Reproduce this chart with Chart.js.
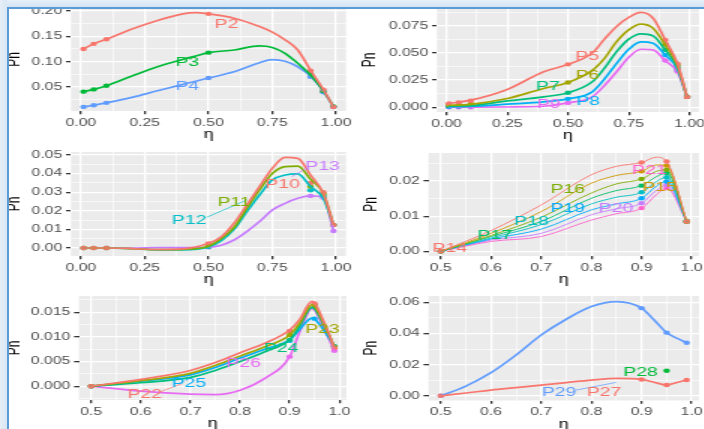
<!DOCTYPE html>
<html>
<head>
<meta charset="utf-8">
<script src="https://cdn.jsdelivr.net/npm/chart.js@4/dist/chart.umd.min.js"></script>
<style>
  html, body { margin: 0; padding: 0; background: #fff; overflow: hidden; width: 704px; height: 429px; }
  canvas { position: absolute; left: 0; top: 0; transform: scaleX(1.5); transform-origin: 0 0; }
  #bandTop { position: absolute; left: 0; top: 0; width: 704px; height: 7px; background: linear-gradient(#e6f0fa, #d2e3f4); z-index: 5; }
  #bandLeft { position: absolute; left: 0; top: 0; width: 7px; height: 429px; background: linear-gradient(90deg, #e6eef7, #d8e6f4); z-index: 5; }
  #frame { position: absolute; left: 7px; top: 7px; width: 720px; height: 440px; border-left: 2px solid #5b9bd5; border-top: 2px solid #5b9bd5; z-index: 6; }
</style>
</head>
<body>
<canvas id="g1" width="470" height="460"></canvas>
<canvas id="g2" width="470" height="460"></canvas>
<canvas id="g3" width="470" height="460"></canvas>
<canvas id="g4" width="470" height="460"></canvas>
<canvas id="g5" width="470" height="460"></canvas>
<canvas id="g6" width="470" height="460"></canvas>
<div id="bandTop"></div>
<div id="bandLeft"></div>
<div id="frame"></div>
<script>
// ---- panel 1 : P2..P4 ----
const p1Names = ['P2', 'P3', 'P4'];
const p1CurveEta = [0.01, 0.05, 0.1, 0.2, 0.3, 0.4, 0.45, 0.5, 0.6, 0.7, 0.75, 0.8, 0.85, 0.9, 0.95, 0.99];
const p1Curves = [
  [0.125, 0.135, 0.144, 0.164, 0.181, 0.194, 0.1965, 0.194, 0.1855, 0.169, 0.158, 0.143, 0.123, 0.083, 0.0455, 0.011],
  [0.041, 0.0455, 0.0526, 0.0717, 0.090, 0.1046, 0.111, 0.1177, 0.123, 0.131, 0.128, 0.1165, 0.0968, 0.0737, 0.043, 0.012],
  [0.0111, 0.0144, 0.019, 0.0297, 0.0427, 0.0553, 0.0615, 0.0678, 0.080, 0.098, 0.104, 0.1007, 0.090, 0.0717, 0.042, 0.011]
];
const p1PointEta = [0.01, 0.05, 0.1, 0.5, 0.9, 0.95, 0.99];
const p1Points = [
  [0.125, 0.135, 0.144, 0.194, 0.082, 0.045, 0.011],
  [0.041, 0.0455, 0.0526, 0.1177, 0.076, 0.042, 0.012],
  [0.0111, 0.0144, 0.019, 0.0678, 0.070, 0.040, 0.011]
];
const p1LabelEta = [0.571, 0.417, 0.417];
const p1LabelPn = [0.173, 0.0993, 0.0506];

// ---- panel 2 : P5..P9 ----
const p2Names = ['P5', 'P6', 'P7', 'P8', 'P9'];
const p2CurveEta = [0.01, 0.1, 0.25, 0.4, 0.5, 0.6, 0.65, 0.7, 0.75, 0.8, 0.85, 0.9, 0.95, 0.99];
const p2Curves = [
  [0.0034, 0.0065, 0.0164, 0.0327, 0.0395, 0.050, 0.0627, 0.0744, 0.0827, 0.0873, 0.082, 0.062, 0.0405, 0.0095],
  [0.0018, 0.0027, 0.008, 0.0173, 0.0228, 0.034, 0.045, 0.0605, 0.0713, 0.0765, 0.0728, 0.0574, 0.0386, 0.0095],
  [0.0009, 0.0015, 0.0058, 0.0096, 0.0133, 0.0234, 0.036, 0.0512, 0.0627, 0.0676, 0.0657, 0.0528, 0.037, 0.0095],
  [0.0003, 0.0008, 0.0028, 0.005, 0.0077, 0.0142, 0.026, 0.0404, 0.0534, 0.0602, 0.059, 0.0481, 0.0355, 0.0095],
  [0, 0, 0.0002, 0.0009, 0.004, 0.0096, 0.020, 0.0327, 0.046, 0.0534, 0.0528, 0.0429, 0.0327, 0.0095]
];
const p2PointEta = [0.01, 0.05, 0.1, 0.5, 0.9, 0.95, 0.99];
const p2Points = [
  [0.0034, 0.0045, 0.006, 0.0395, 0.062, 0.040, 0.0095],
  [0.002, 0.0025, 0.003, 0.0228, 0.058, 0.039, 0.0095],
  [0.0012, 0.0015, 0.002, 0.0133, 0.053, 0.037, 0.0095],
  [0.0005, 0.0007, 0.001, 0.0077, 0.048, 0.035, 0.0095],
  [0, 0, 0, 0.004, 0.043, 0.033, 0.0095]
];
const p2LabelEta = [0.579, 0.58, 0.417, 0.583, 0.421];
const p2LabelPn = [0.0466, 0.0296, 0.0188, 0.0049, 0.0028];

// ---- panel 3 : P10..P13 ----
const p3Names = ['P10', 'P11', 'P12', 'P13'];
const p3CurveEta = [0.01, 0.1, 0.2, 0.3, 0.4, 0.5, 0.55, 0.6, 0.65, 0.7, 0.75, 0.8, 0.85, 0.9, 0.95, 0.99];
const p3Curves = [
  [0, 0, -0.0003, -0.0008, -0.0005, 0.0025, 0.006, 0.0133, 0.0231, 0.033, 0.0428, 0.0487, 0.0482, 0.0392, 0.0294, 0.0124],
  [0, 0, -0.0003, -0.0009, -0.0007, 0.001, 0.005, 0.011, 0.0213, 0.0312, 0.040, 0.0437, 0.044, 0.037, 0.0294, 0.0124],
  [0, 0, -0.0004, -0.001, -0.001, 0.0005, 0.004, 0.010, 0.0195, 0.0285, 0.0366, 0.0392, 0.0398, 0.033, 0.0267, 0.0124],
  [null, 0, 0, 0.0002, 0.0002, 0.0004, 0.0015, 0.0043, 0.0088, 0.0142, 0.0204, 0.024, 0.0267, 0.028, 0.0272, 0.0091]
];
const p3PointEta = [0.01, 0.05, 0.1, 0.5, 0.9, 0.95, 0.99];
const p3Points = [
  [0, 0, 0, 0.0025, 0.035, 0.030, 0.0124],
  [0, 0, 0, 0.001, 0.033, 0.029, 0.0124],
  [0, 0, 0, 0.0005, 0.031, 0.028, 0.0124],
  [null, null, 0, 0.0004, 0.028, 0.027, 0.0091]
];
const p3LabelEta = [0.79, 0.60, 0.424, 0.947];
const p3LabelPn = [0.0342, 0.0247, 0.015, 0.0437];

// ---- panel 4 : P14..P21 ----
const p4Names = ['P14', 'P15', 'P16', 'P17', 'P18', 'P19', 'P20', 'P21'];
const p4CurveEta = [0.5, 0.6, 0.7, 0.8, 0.85, 0.9, 0.93, 0.95, 0.99];
const p4Curves = [
  [0, 0.0059, 0.0132, 0.0218, 0.0242, 0.0253, 0.0268, 0.0256, 0.0085],
  [0, 0.0051, 0.0113, 0.0194, 0.0216, 0.0228, 0.0246, 0.0244, 0.0085],
  [0, 0.0045, 0.0097, 0.0166, 0.0192, 0.0206, 0.0228, 0.0232, 0.0085],
  [0, 0.0042, 0.0085, 0.0151, 0.0173, 0.0187, 0.0213, 0.0223, 0.0085],
  [0, 0.0038, 0.0076, 0.0135, 0.0154, 0.0168, 0.0199, 0.0211, 0.0085],
  [0, 0.0035, 0.0063, 0.0118, 0.0135, 0.0151, 0.0186, 0.0199, 0.0085],
  [0, 0.0032, 0.0051, 0.0104, 0.0121, 0.0137, 0.0174, 0.0189, 0.0085],
  [0, 0.0028, 0.0042, 0.0089, 0.0107, 0.0123, 0.0162, 0.018, 0.0085]
];
const p4PointEta = [0.5, 0.9, 0.95, 0.99];
const p4Points = [
  [0, 0.0253, 0.0256, 0.0085],
  [0, 0.0228, 0.0244, 0.0085],
  [0, 0.0206, 0.0232, 0.0085],
  [0, 0.0187, 0.0223, 0.0085],
  [0, 0.0168, 0.0211, 0.0085],
  [0, 0.0151, 0.0199, 0.0085],
  [0, 0.0137, 0.0189, 0.0085],
  [0, 0.0123, 0.018, 0.0085]
];
const p4LabelEta = [0.518, 0.936, 0.753, 0.6075, 0.681, 0.753, 0.849, 0.9155];
const p4LabelPn = [0.0007, 0.0181, 0.0175, 0.0046, 0.0086, 0.0122, 0.0122, 0.0229];

// ---- panel 5 : P22..P26 ----
const p5Names = ['P22', 'P23', 'P24', 'P25', 'P26'];
const p5CurveEta = [0.5, 0.6, 0.7, 0.75, 0.8, 0.85, 0.9, 0.92, 0.945, 0.97, 0.99];
const p5Curves = [
  [0, 0.0014, 0.0032, 0.0048, 0.0068, 0.0087, 0.0114, 0.0135, 0.0172, 0.0128, 0.0077],
  [0, 0.0011, 0.0026, 0.0042, 0.0061, 0.008, 0.0104, 0.0128, 0.0165, 0.0125, 0.008],
  [0, 0.0007, 0.0018, 0.0032, 0.005, 0.007, 0.0094, 0.0122, 0.016, 0.0122, 0.008],
  [0, 0.001, 0.0023, 0.0038, 0.0057, 0.0075, 0.0094, 0.0115, 0.0138, 0.0112, 0.0081],
  [0, -0.001, -0.0016, -0.0017, -0.0008, 0.0016, 0.006, 0.011, 0.0158, 0.0115, 0.0072]
];
const p5PointEta = [0.5, 0.9, 0.95, 0.99];
const p5Points = [
  [0, 0.0112, 0.0168, 0.0077],
  [0, 0.0104, 0.0165, 0.008],
  [0, 0.0094, 0.016, 0.008],
  [0, 0.0092, 0.0137, 0.0081],
  [0, 0.006, 0.0163, 0.0072]
];
const p5LabelEta = [0.608, 0.966, 0.883, 0.697, 0.807];
const p5LabelPn = [-0.0017, 0.0116, 0.0077, 0.0006, 0.0047];

// ---- panel 6 : P27..P29 ----
const p6Names = ['P27', 'P28', 'P29'];
const p6CurveEta = [0.5, 0.55, 0.6, 0.65, 0.7, 0.75, 0.8, 0.85, 0.9, 0.925, 0.95, 0.97, 0.99];
const p6Curves = [
  [0, 0.0018, 0.0037, 0.0053, 0.0069, 0.0085, 0.0101, 0.0112, 0.0105, 0.0087, 0.0069, 0.0085, 0.0101],
  null,
  [0, 0.0062, 0.0148, 0.0262, 0.039, 0.0491, 0.0572, 0.0604, 0.0562, 0.0486, 0.0405, 0.037, 0.034]
];
const p6PointEta = [0.5, 0.9, 0.95, 0.99];
const p6Points = [
  [0, 0.0105, 0.0069, 0.0101],
  [null, null, 0.0161, null],
  [0, 0.0562, 0.0405, 0.034]
];
const p6LabelEta = [0.8253, 0.898, 0.7357];
const p6LabelPn = [0.0022, 0.015, 0.0022];

// ---- ticks ----
const ticksEtaWide = [0, 0.25, 0.5, 0.75, 1];
const ticksEtaWideText = ['0.00', '0.25', '0.50', '0.75', '1.00'];
const ticksEtaWideMinor = [0.125, 0.375, 0.625, 0.875];
const ticksEtaNarrow = [0.5, 0.6, 0.7, 0.8, 0.9, 1];
const ticksEtaNarrowText = ['0.5', '0.6', '0.7', '0.8', '0.9', '1.0'];
const ticksEtaNarrowMinor = [0.55, 0.65, 0.75, 0.85, 0.95];

// ggplot hue palettes
const hue3 = ['#F8766D', '#00BA38', '#619CFF'];
const hue4 = ['#F8766D', '#7CAE00', '#00BFC4', '#C77CFF'];
const hue5 = ['#F8766D', '#A3A500', '#00BF7D', '#00B0F6', '#E76BF3'];
const hue8 = ['#F8766D', '#CD9600', '#7CAE00', '#00BE67', '#00BFC4', '#00A9FF', '#C77CFF', '#FF61CC'];

const S = 1.5;          // the reference is stretched sideways; canvases are drawn narrow and widened by CSS
const CW = 470, CH = 460;
const XH = 31;          // height of the x axis box (ticks + title)
const FONT = '"Liberation Sans", Arial, sans-serif';

// background of the plotting panel
const panelBg = {
  id: 'panelBg',
  beforeDraw(chart) {
    const a = chart.chartArea, ctx = chart.ctx;
    ctx.save();
    ctx.fillStyle = '#EBEBEB';
    ctx.fillRect(a.left, a.top, a.right - a.left, a.bottom - a.top);
    ctx.restore();
  }
};

// series names written next to the curves
const seriesLabels = {
  id: 'seriesLabels',
  afterDatasetsDraw(chart, args, opts) {
    const ctx = chart.ctx, x = chart.scales.x, y = chart.scales.y;
    ctx.save();
    (opts.segments || []).forEach(sg => {
      ctx.strokeStyle = sg.color;
      ctx.lineWidth = 0.7;
      ctx.beginPath();
      ctx.moveTo(x.getPixelForValue(sg.x1), y.getPixelForValue(sg.y1));
      ctx.lineTo(x.getPixelForValue(sg.x2), y.getPixelForValue(sg.y2));
      ctx.stroke();
    });
    ctx.font = '13px ' + FONT;
    ctx.textAlign = 'center';
    ctx.textBaseline = 'middle';
    opts.items.forEach(it => {
      ctx.fillStyle = it.color;
      ctx.fillText(it.text, x.getPixelForValue(it.x), y.getPixelForValue(it.y));
    });
    ctx.restore();
  }
};

function axis(min, max, majors, texts, minors, title, afterFit) {
  const all = majors.concat(minors).sort((a, b) => a - b);
  const majorIndex = v => majors.findIndex(m => Math.abs(m - v) < 1e-9);
  const isMajor = c => c.tick && majorIndex(c.tick.value) >= 0;
  return {
    type: 'linear',
    min: min,
    max: max,
    afterBuildTicks: s => { s.ticks = all.map(v => ({ value: v })); },
    afterFit: afterFit,
    ticks: {
      autoSkip: false,
      maxRotation: 0,
      padding: 2.5,
      color: '#4D4D4D',
      font: { family: FONT, size: 10.5 },
      callback: v => { const k = majorIndex(v); return k < 0 ? '' : texts[k]; }
    },
    grid: {
      color: '#FFFFFF',
      lineWidth: c => isMajor(c) ? 1.3 : 0.6,
      tickColor: c => isMajor(c) ? '#333333' : 'rgba(0,0,0,0)',
      tickLength: 3.3
    },
    border: { display: false },
    title: { display: true, text: title, color: '#000000', font: { family: FONT, size: 12 }, padding: 0 }
  };
}

function panel(id, p) {
  const datasets = [];
  p.names.forEach((name, i) => {
    if (!p.curves[i]) return;
    datasets.push({
      data: p.curveEta.map((e, j) => ({ x: e, y: p.curves[i][j] })).filter(d => d.y !== null),
      borderColor: p.colors[i],
      borderWidth: p.lineWidth,
      pointRadius: 0,
      cubicInterpolationMode: 'monotone',
      fill: false
    });
  });
  p.names.forEach((name, i) => {
    datasets.push({
      data: p.pointEta.map((e, j) => ({ x: e, y: p.points[i][j] })).filter(d => d.y !== null),
      showLine: false,
      pointRadius: 2.2,
      pointBorderWidth: 0,
      pointBackgroundColor: p.colors[i],
      borderColor: p.colors[i]
    });
  });
  const items = p.names.map((name, i) => ({ text: name, x: p.labelEta[i], y: p.labelPn[i], color: p.colors[i] }));

  const r = p.rect;
  const padLeft = r.titleX / S - 6;
  new Chart(document.getElementById(id), {
    type: 'line',
    data: { datasets: datasets },
    options: {
      responsive: false,
      animation: false,
      devicePixelRatio: 1,
      layout: { padding: { left: padLeft, right: CW - r.R / S, top: r.T, bottom: CH - r.B - XH } },
      scales: {
        x: axis(p.xMin, p.xMax, p.xTicks, p.xText, p.xMinor, 'η', s => {
          s.height = XH; s.paddingLeft = 0; s.paddingRight = 0;
        }),
        y: axis(p.yMin, p.yMax, p.yTicks, p.yText, p.yMinor, 'Pn', s => {
          s.width = r.L / S - padLeft; s.paddingTop = 0; s.paddingBottom = 0;
        })
      },
      plugins: {
        legend: { display: false },
        tooltip: { enabled: false },
        seriesLabels: { items: items, segments: p.segments || [] }
      }
    },
    plugins: [panelBg, seriesLabels]
  });
}

panel('g1', {
  names: p1Names, colors: hue3, curveEta: p1CurveEta, curves: p1Curves,
  pointEta: p1PointEta, points: p1Points, labelEta: p1LabelEta, labelPn: p1LabelPn, lineWidth: 1.7,
  xMin: -0.039, xMax: 1.039, xTicks: ticksEtaWide, xText: ticksEtaWideText, xMinor: ticksEtaWideMinor,
  yMin: 0.003, yMax: 0.2055, yTicks: [0.05, 0.10, 0.15, 0.20], yText: ['0.05', '0.10', '0.15', '0.20'],
  yMinor: [0.025, 0.075, 0.125, 0.175],
  rect: { L: 71, R: 346, T: 8, B: 111, titleX: 13 }
});

panel('g2', {
  names: p2Names, colors: hue5, curveEta: p2CurveEta, curves: p2Curves,
  pointEta: p2PointEta, points: p2Points, labelEta: p2LabelEta, labelPn: p2LabelPn, lineWidth: 1.7,
  xMin: -0.039, xMax: 1.039, xTicks: ticksEtaWide, xText: ticksEtaWideText, xMinor: ticksEtaWideMinor,
  yMin: -0.0044, yMax: 0.0914, yTicks: [0, 0.025, 0.05, 0.075], yText: ['0.000', '0.025', '0.050', '0.075'],
  yMinor: [0.0125, 0.0375, 0.0625, 0.0875],
  rect: { L: 437, R: 702, T: 8, B: 112, titleX: 368 }
});

panel('g3', {
  names: p3Names, colors: hue4, curveEta: p3CurveEta, curves: p3Curves,
  pointEta: p3PointEta, points: p3Points, labelEta: p3LabelEta, labelPn: p3LabelPn, lineWidth: 1.7,
  xMin: -0.039, xMax: 1.039, xTicks: ticksEtaWide, xText: ticksEtaWideText, xMinor: ticksEtaWideMinor,
  yMin: -0.0043, yMax: 0.0516, yTicks: [0, 0.01, 0.02, 0.03, 0.04, 0.05],
  yText: ['0.00', '0.01', '0.02', '0.03', '0.04', '0.05'],
  yMinor: [0.005, 0.015, 0.025, 0.035, 0.045],
  segments: [
    { x1: 0.493, y1: 0.0165, x2: 0.650, y2: 0.0258, color: hue4[2] },
    { x1: 0.883, y1: 0.0428, x2: 0.826, y2: 0.0383, color: hue4[3] }
  ],
  rect: { L: 71, R: 346, T: 152, B: 256, titleX: 13 }
});

panel('g4', {
  names: p4Names, colors: hue8, curveEta: p4CurveEta, curves: p4Curves,
  pointEta: p4PointEta, points: p4Points, labelEta: p4LabelEta, labelPn: p4LabelPn, lineWidth: 0.9,
  xMin: 0.4755, xMax: 1.0145, xTicks: ticksEtaNarrow, xText: ticksEtaNarrowText, xMinor: ticksEtaNarrowMinor,
  yMin: -0.00134, yMax: 0.028, yTicks: [0, 0.01, 0.02], yText: ['0.00', '0.01', '0.02'],
  yMinor: [0.005, 0.015, 0.025],
  rect: { L: 428.5, R: 702, T: 153, B: 256, titleX: 370 }
});

panel('g5', {
  names: p5Names, colors: hue5, curveEta: p5CurveEta, curves: p5Curves,
  pointEta: p5PointEta, points: p5Points, labelEta: p5LabelEta, labelPn: p5LabelPn, lineWidth: 1.7,
  xMin: 0.4755, xMax: 1.0145, xTicks: ticksEtaNarrow, xText: ticksEtaNarrowText, xMinor: ticksEtaNarrowMinor,
  yMin: -0.0028, yMax: 0.0183, yTicks: [0, 0.005, 0.01, 0.015], yText: ['0.000', '0.005', '0.010', '0.015'],
  yMinor: [-0.0025, 0.0025, 0.0075, 0.0125, 0.0175],
  segments: [
    { x1: 0.640, y1: -0.0011, x2: 0.6825, y2: 0.0005, color: hue5[0] }
  ],
  rect: { L: 79, R: 346.5, T: 296, B: 400, titleX: 13 }
});

panel('g6', {
  names: p6Names, colors: hue3, curveEta: p6CurveEta, curves: p6Curves,
  pointEta: p6PointEta, points: p6Points, labelEta: p6LabelEta, labelPn: p6LabelPn, lineWidth: 1.7,
  xMin: 0.4755, xMax: 1.0145, xTicks: ticksEtaNarrow, xText: ticksEtaNarrowText, xMinor: ticksEtaNarrowMinor,
  yMin: -0.003, yMax: 0.064, yTicks: [0, 0.02, 0.04, 0.06], yText: ['0.00', '0.02', '0.04', '0.06'],
  yMinor: [0.01, 0.03, 0.05],
  segments: [
    { x1: 0.7695, y1: 0.0037, x2: 0.8495, y2: 0.0086, color: hue3[2] }
  ],
  rect: { L: 428.5, R: 702, T: 296, B: 400.5, titleX: 369 }
});
</script>
</body>
</html>
